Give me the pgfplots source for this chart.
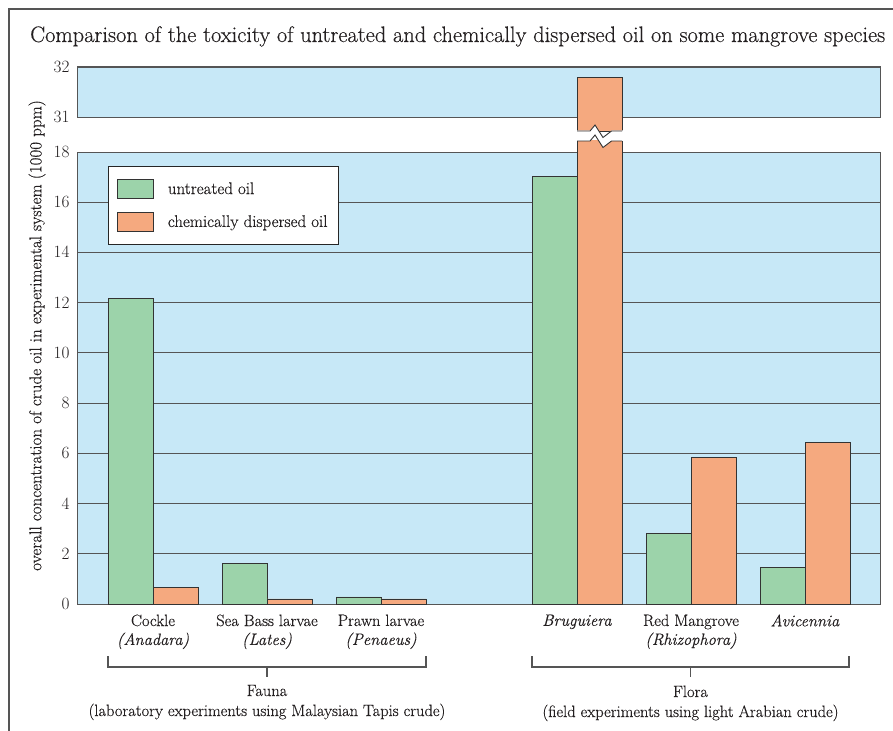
\documentclass[border=0pt]{standalone}
\usepackage{fontspec}
\setmainfont{Latin Modern Roman}[UprightFeatures={FakeBold=0.4},ItalicFeatures={FakeBold=0.4}]
\usepackage{pgfplots}
\usepackage{pgfplotstable}
\pgfplotsset{compat=1.18}
\definecolor{bgblue}{HTML}{C7E8F7}
\definecolor{bargreen}{HTML}{9CD3AA}
\definecolor{barorange}{HTML}{F5A97F}
\definecolor{framegray}{HTML}{555555}
\definecolor{txt}{HTML}{231F20}
\newcommand{\lblfont}{\fontsize{16.5}{19}\selectfont}
\pgfplotsset{
  boxleg/.style={legend image code/.code={\draw[##1, line width=0.9bp] (0bp,-9.5bp) rectangle (36bp,9.5bp);}},
  common/.style={
    scale only axis, width=803bp,
    xmin=77, xmax=880,
    set layers,
    axis line style={draw=none},
    major tick length=0pt,
    yticklabel style={font=\lblfont, text=txt, xshift=-4bp},
    ymajorgrids, grid style={framegray, line width=0.9bp},
  },
  greenbar/.style={ybar, bar width=45, bar shift=-22.5, fill=bargreen, draw=black!80, line width=0.9bp, boxleg},
  orangebar/.style={ybar, bar width=45, bar shift=22.5, fill=barorange, draw=black!80, line width=0.9bp, boxleg},
}
\pgfplotstableread{
x   untreated dispersed
153 12.15 0.65
267 1.63  0.20
381 0.28  0.20
577 17.03 31.80
691 2.80  5.85
805 1.45  6.45
}\datatable
\begin{document}
\begin{tikzpicture}
\begin{scope}[x=1bp,y=-1bp]
\useasboundingbox (0,0) rectangle (893,731);
\draw[framegray, line width=1.5bp] (9,731) -- (9,9) -- (893,9);
\node[anchor=base west, font=\fontsize{22.5}{25}\selectfont, text=txt, inner sep=0] at (30,42)
  {Comparison of the toxicity of untreated and chemically dispersed oil on some mangrove species};
\end{scope}
% upper (broken) part
\begin{axis}[common,
  at={(77bp,-131bp)}, anchor=south west, height=64bp,
  ymin=30.72, ymax=32,
  ytick={31,32}, xtick=\empty,
]
\begin{pgfonlayer}{axis background}
\draw[framegray, line width=1bp, fill=bgblue] (axis cs:77,31) rectangle (axis cs:880,32);
\end{pgfonlayer}
\addplot[orangebar, restrict y to domain=30:40] table[x=x, y=dispersed] {\datatable};
\end{axis}
% lower part
\begin{axis}[common,
  at={(77bp,-604bp)}, anchor=south west, height=464bp,
  ymin=0, ymax=18.478,
  ytick={0,2,...,18},
  xtick={153,267,381,577,691,805},
  xticklabels={{Cockle\\\textit{(Anadara)}},{Sea Bass larvae\\\textit{(Lates)}},{Prawn larvae\\\textit{(Penaeus)}},{\textit{Bruguiera}},{Red Mangrove\\\textit{(Rhizophora)}},{\textit{Avicennia}}},
  xticklabel style={align=center, font=\lblfont, text=txt, yshift=-7bp},
  ylabel={overall concentration of crude oil in experimental system (1000 ppm)},
  ylabel style={at={(axis description cs:-0.0498,0.5787)}, anchor=center, font=\fontsize{17.1}{19}\selectfont, text=txt},
  legend style={draw=black!85, line width=1bp, fill=white, at={(0.0386,0.9440)}, anchor=north west,
    inner xsep=8.5bp, inner ysep=12.5bp, row sep=13bp, column sep=12bp, font=\fontsize{17}{19}\selectfont, text=txt},
  legend cell align=left,
]
\begin{pgfonlayer}{axis background}
\draw[framegray, line width=1bp, fill=bgblue] (axis cs:77,0) rectangle (axis cs:880,18);
\end{pgfonlayer}
\addplot[greenbar] table[x=x, y=untreated] {\datatable};
\addplot[orangebar] table[x=x, y=dispersed] {\datatable};
\legend{untreated oil, chemically dispersed oil}
\end{axis}
\begin{scope}[x=1bp,y=-1bp]
% axis break on the tall bar
\fill[white] (576,130.5) -- (590,130.5) -- (595,125) -- (603,137.5) -- (611.5,130.5) -- (623.5,130.5)
  -- (623.5,141) -- (611.5,141) -- (603,147.5) -- (595,135) -- (590,141) -- (576,141) -- cycle;
\draw[black!80, line width=0.9bp] (577,131) -- (590,131) -- (595,125) -- (603,137.5) -- (611.5,131) -- (622,131);
\draw[black!80, line width=0.9bp] (577,141) -- (590,141) -- (595,135) -- (603,147.5) -- (611.5,141) -- (622,141);
% group brackets
\draw[framegray, line width=1.2bp] (108,656) -- (108,667) -- (426,667) -- (426,656);
\draw[framegray, line width=1.2bp] (267,667) -- (267,677);
\draw[framegray, line width=1.2bp] (532,656) -- (532,667) -- (849,667) -- (849,656);
\draw[framegray, line width=1.2bp] (690.5,667) -- (690.5,677);
\node[anchor=base, font=\lblfont, text=txt, inner sep=0] at (267,696) {Fauna};
\node[anchor=base, font=\lblfont, text=txt, inner sep=0] at (267,716) {(laboratory experiments using Malaysian Tapis crude)};
\node[anchor=base, font=\lblfont, text=txt, inner sep=0] at (690.5,697) {Flora};
\node[anchor=base, font=\lblfont, text=txt, inner sep=0] at (690.5,717) {(field experiments using light Arabian crude)};
\end{scope}
\end{tikzpicture}
\end{document}
